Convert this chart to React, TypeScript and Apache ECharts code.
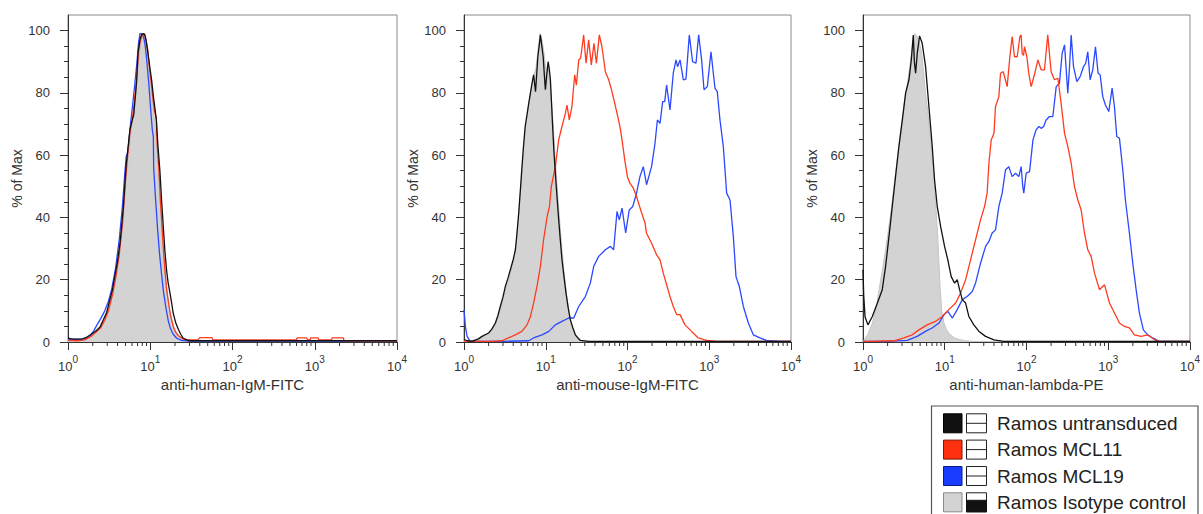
import React, { useEffect, useRef } from 'react';
import * as echarts from 'echarts';

// ---------- axis / label data ----------
const X_MIN = 1;
const X_MAX = 10000;
const Y_MIN = 0;
const Y_MAX = 105;
const Y_MAJOR = [0, 20, 40, 60, 80, 100];
const Y_MINOR = [5, 10, 15, 25, 30, 35, 45, 50, 55, 65, 70, 75, 85, 90, 95];
const X_MINOR = [
  2, 3, 4, 5, 6, 7, 8, 9,
  20, 30, 40, 50, 60, 70, 80, 90,
  200, 300, 400, 500, 600, 700, 800, 900,
  2000, 3000, 4000, 5000, 6000, 7000, 8000, 9000,
];
const PANEL_TITLES = ['anti-human-IgM-FITC', 'anti-mouse-IgM-FITC', 'anti-human-lambda-PE'];
const Y_TITLE = '% of Max';
const SERIES_NAMES = ['Ramos untransduced', 'Ramos MCL11', 'Ramos MCL19', 'Ramos Isotype control'];

// ---------- panel 1: anti-human-IgM-FITC ----------
const p1Untransduced = [
  [1.0, 1.2], [1.1, 1.0], [1.3, 0.9], [1.5, 1.0], [1.7, 1.6], [1.9, 2.4], [2.2, 3.6], [2.45, 4.8],
  [2.7, 7.2], [2.95, 9.5], [3.2, 13.2], [3.45, 16.5], [3.7, 21], [4.0, 26], [4.3, 32], [4.7, 43],
  [5.1, 57], [5.4, 63], [5.65, 68], [6.0, 71], [6.3, 73], [6.6, 79], [6.8, 83], [7.1, 93],
  [7.5, 97], [7.8, 98.6], [8.3, 99], [8.6, 98.6], [9.0, 96], [9.4, 92.5], [9.9, 88], [10.4, 84],
  [10.9, 79], [11.4, 75], [11.9, 71], [12.4, 63], [13.1, 55], [13.7, 46], [14.4, 37], [15.1, 29],
  [15.8, 23], [16.5, 19], [17.3, 16], [18.2, 12.5], [19, 9.3], [20.5, 6], [22, 4], [23.5, 2.5],
  [25, 1.3], [28, 0.6], [30, 0.4], [10000, 0.4],
];
const p1MCL11 = [
  [1.0, 0.5], [1.3, 0.4], [1.6, 0.7], [1.9, 1.8], [2.2, 3.2], [2.5, 4.6], [2.8, 7], [3.1, 10],
  [3.5, 15.5], [3.8, 20.5], [4.2, 28], [4.6, 38], [5.0, 52], [5.4, 62], [5.7, 68], [6.1, 72],
  [6.5, 79], [6.9, 86], [7.2, 93], [7.6, 97], [8.0, 98.5], [8.5, 99], [8.9, 97], [9.3, 94],
  [9.8, 88], [10.3, 83], [10.8, 78], [11.3, 74], [11.8, 72], [12.1, 64], [12.7, 56], [13.3, 45],
  [13.9, 37], [14.5, 29], [15.2, 22], [15.8, 17], [16.6, 13], [17.5, 9], [19, 5], [20.5, 3],
  [22, 2], [25, 1], [30, 0.7], [38, 0.7], [40, 1.4], [56, 1.4], [58, 0.7], [600, 0.7],
  [610, 1.3], [800, 1.3], [820, 0.7], [880, 0.7], [890, 1.3], [1100, 1.3], [1120, 0.7], [1600, 0.7],
  [1620, 1.3], [2240, 1.3], [2260, 0.4], [10000, 0.4],
];
const p1MCL19 = [
  [1.0, 1.0], [1.3, 0.8], [1.6, 1.0], [1.85, 2], [2.05, 3.5], [2.25, 5.5], [2.5, 7.5], [2.8, 10],
  [3.1, 13], [3.4, 17], [3.8, 24], [4.2, 33], [4.6, 44], [4.9, 54], [5.1, 59.5], [5.35, 61],
  [5.7, 69], [6.1, 76], [6.5, 83], [6.9, 90], [7.2, 96], [7.5, 99], [7.9, 99], [8.3, 98],
  [8.7, 95], [9.1, 90], [9.6, 83], [10.1, 75], [10.6, 68], [10.9, 66], [11.0, 56], [11.6, 46],
  [12.3, 36], [13.0, 28], [13.7, 22], [14.5, 16], [15.5, 11], [16.5, 7], [17.5, 4.5], [19, 2.5],
  [21, 1.2], [24, 0.5], [30, 0.3], [10000, 0.3],
];
const p1Isotype = [
  [1.0, 0.8], [1.5, 0.8], [1.8, 1.8], [2.1, 3], [2.4, 4.5], [2.7, 7], [3.0, 10], [3.3, 14],
  [3.7, 20], [4.1, 27], [4.5, 36], [4.9, 47], [5.3, 57], [5.7, 65], [6.1, 71], [6.5, 77],
  [6.9, 84], [7.3, 91], [7.7, 96], [8.2, 98.8], [8.7, 98], [9.2, 94], [9.7, 88], [10.2, 82],
  [10.8, 76], [11.4, 70], [12.0, 62], [12.7, 52], [13.4, 42], [14.2, 32], [15.0, 24], [15.9, 17],
  [17, 11], [18.5, 6.5], [20, 4], [22, 2.2], [25, 1], [30, 0.4], [40, 0.2], [10000, 0.2],
];

// ---------- panel 2: anti-mouse-IgM-FITC ----------
const p2Untransduced = [
  [1.0, 0.8], [1.1, 0.4], [1.26, 0.2], [1.5, 1.0], [1.66, 1.8], [2.0, 2.9], [2.2, 4.2], [2.42, 6.1],
  [2.6, 8.5], [2.78, 11.4], [3.0, 14.5], [3.2, 17.8], [3.45, 20.5], [3.69, 23.2], [4.0, 26.5], [4.25, 29.6],
  [4.45, 35], [4.67, 41.4], [4.9, 49], [5.12, 56.3], [5.35, 63], [5.6, 69.2], [5.9, 73], [6.2, 76.7],
  [6.5, 80], [6.8, 83.1], [7.1, 85.8], [7.3, 83], [7.5, 80.4], [7.75, 86], [8.0, 91.6], [8.3, 95],
  [8.6, 98.6], [8.95, 95], [9.3, 91.6], [9.6, 86], [9.9, 81], [10.3, 86], [10.7, 90], [11.0, 88],
  [11.4, 84.2], [11.8, 76], [12.2, 68.1], [12.6, 61], [13.1, 54.2], [13.7, 47], [14.4, 39.2], [15.1, 32.5],
  [15.8, 26.4], [16.7, 21], [17.7, 15.7], [18.8, 11], [20, 7.1], [21.5, 4.5], [23, 2.3], [25, 1.2],
  [26.5, 0.5], [33.5, 0.2], [10000, 0.2],
];
const p2MCL11 = [
  [1.0, 0.3], [2.0, 0.2], [2.9, 0.4], [3.5, 1.3], [4.25, 2.3], [5.1, 3.4], [5.9, 5.5], [6.5, 8.2],
  [7.1, 12.5], [7.8, 17.8], [8.6, 24.3], [9.4, 32.8], [10.4, 40.3], [11.1, 43.5], [11.7, 49.9], [13.1, 56.3],
  [14.4, 64.9], [15.8, 69.2], [17.4, 73.5], [18.2, 76.1], [19.4, 71.3], [20.9, 75.6], [22.6, 85.8], [23.7, 82.5],
  [25.3, 90.6], [26.7, 91.1], [29.1, 98.6], [31.1, 89.5], [33.5, 97], [36.1, 89], [38.9, 95.9], [41.6, 89.5],
  [45.2, 98.6], [48.7, 94.8], [53.6, 86.8], [58.9, 84.2], [64.6, 80.4], [74.4, 73.5], [81, 69], [85.7, 65],
  [93, 58], [100, 53], [107, 51], [118, 49.4], [129, 46.7], [149, 41.4], [164, 38.2], [171, 34.9],
  [197, 31.7], [227, 28], [250, 26.4], [274, 22.1], [301, 18.4], [331, 14.6], [363, 11.4], [399, 8.8],
  [439, 8.8], [505, 5.5], [609, 3.4], [735, 1.3], [929, 0.5], [1230, 0.2], [10000, 0.2],
];
const p2MCL19 = [
  [1.0, 10.4], [1.04, 5], [1.09, 1.8], [1.19, 0.2], [3, 0.2], [6.2, 0.4], [7.1, 1.3], [9.0, 2.3],
  [10.9, 3.4], [13.1, 5.5], [15.8, 6.6], [19.1, 7.7], [22, 7.7], [25.3, 11.4], [30.5, 14.6], [35.1, 18.9],
  [38.6, 24.3], [44.4, 27.5], [53.6, 29.6], [61.7, 30.7], [67.7, 29.6], [74.4, 41.9], [79.4, 39.2], [85.7, 43],
  [95, 35], [105, 42.4], [116, 43.5], [129, 47.8], [142, 53.1], [156, 56.3], [171, 50.5], [197, 56.3],
  [217, 63.8], [232, 71.3], [250, 70.2], [269, 77.2], [285, 77.2], [301, 82.5], [331, 74.5], [363, 86.3],
  [392, 90.6], [410, 88.4], [439, 90.6], [482, 84.2], [519, 84.4], [570, 98.6], [626, 90], [688, 89.5],
  [742, 98.6], [807, 90.6], [863, 81], [947, 82], [1050, 93.2], [1175, 81.5], [1254, 80.4], [1352, 71.3],
  [1486, 62.8], [1633, 47.8], [1795, 45.6], [1970, 33.9], [2124, 21], [2335, 17.8], [2613, 11.4], [3008, 6.1],
  [3459, 2.3], [4170, 1.3], [5030, 0.5], [7330, 0.2], [10000, 0.2],
];
const p2Isotype = [
  [1.0, 0.3], [1.5, 0.8], [1.8, 1.8], [2.1, 3.2], [2.4, 5.5], [2.7, 9], [3.0, 13.5], [3.3, 17.5],
  [3.7, 22], [4.1, 27], [4.4, 33], [4.7, 42], [5.0, 51], [5.3, 60], [5.6, 68], [6.0, 74],
  [6.4, 79], [6.8, 83], [7.2, 86], [7.6, 88], [8.0, 93], [8.5, 99], [9.0, 97], [9.5, 93],
  [10.0, 88], [10.6, 88], [11.2, 85], [11.8, 77], [12.4, 69], [13.0, 60], [13.7, 51], [14.4, 43],
  [15.2, 35], [16.0, 28], [17, 21], [18, 15], [19.2, 10], [20.5, 6], [22, 3.5], [24, 1.5],
  [27, 0.5], [33, 0.2], [10000, 0.2],
];

// ---------- panel 3: anti-human-lambda-PE ----------
const p3Untransduced = [
  [1.0, 23.2], [1.02, 15], [1.06, 8], [1.15, 5.5], [1.3, 8.2], [1.5, 12.5], [1.72, 16.8], [1.89, 24.3],
  [2.08, 33.9], [2.28, 43.5], [2.5, 53.1], [2.75, 62.8], [3.03, 71.3], [3.32, 79.9], [3.65, 84.2], [3.9, 90.6],
  [4.12, 98.6], [4.25, 90], [4.4, 86.3], [4.61, 92.7], [4.92, 98.3], [5.3, 95.9], [5.83, 88.4], [6.4, 75.6],
  [7.03, 62.8], [7.5, 52.1], [8.1, 43.5], [8.9, 37.1], [9.95, 30.7], [10.9, 26.4], [12.0, 21], [13.2, 18.9],
  [14.2, 20], [15.2, 16.8], [16.4, 13.6], [18, 12.5], [19.7, 8.2], [22.7, 5.5], [26.2, 3.4], [31.6, 1.8],
  [39.9, 0.7], [52.9, 0.2], [10000, 0.2],
];
const p3MCL11 = [
  [1.0, 0.2], [1.13, 0.2], [2.39, 0.4], [3.17, 1.3], [4.0, 2.3], [4.83, 3.9], [6.1, 5.5], [7.7, 6.6],
  [9.3, 8.2], [11.2, 10.4], [13.6, 12.5], [15.6, 15.7], [18, 20], [20.7, 26.4], [23.8, 32.8], [27.4, 39.2],
  [30.7, 43.5], [33, 47.8], [34.7, 57.4], [37, 64.9], [40, 67], [41.8, 75.6], [45.9, 78.8], [48.1, 86.3],
  [51.9, 86.8], [58, 82], [62.6, 91.6], [66.8, 98.1], [71.3, 91.6], [77, 91.6], [83, 98.1], [86, 98.6],
  [88.5, 92.7], [92, 92], [94.6, 94.8], [101, 91.6], [107, 86], [114, 82], [125, 85.8], [138, 90.6],
  [151, 87.4], [166, 87.4], [182, 98.6], [200, 86.8], [220, 84.2], [242, 84.7], [265, 76.7], [292, 67],
  [320, 62.8], [352, 57.4], [386, 49.9], [425, 45.6], [466, 42.4], [512, 35], [562, 29.6], [618, 27.5],
  [679, 22.1], [781, 16.8], [899, 18.4], [1036, 12.5], [1192, 9.3], [1371, 6.1], [1578, 5], [1815, 4.5],
  [2089, 2.3], [2522, 1.8], [3040, 2.3], [3670, 0.7], [4230, 0.2], [10000, 0.2],
];
const p3MCL19 = [
  [1.0, 0.2], [1.98, 0.2], [3.48, 0.5], [4.6, 1.8], [5.8, 3.4], [7.0, 4.5], [8.5, 6.1], [9.8, 8.8],
  [10.9, 9.8], [12.4, 7.7], [14.2, 10.4], [16.4, 13.6], [18.8, 14.6], [21.7, 16.2], [23.8, 18.9], [27.4, 25.3],
  [31.6, 30.7], [34.7, 32.3], [38, 35], [41.8, 36], [45.9, 43.5], [50.4, 47.8], [55.4, 55.3], [60.8, 56.3],
  [66.8, 53.1], [73.4, 54.2], [80.6, 53.1], [86, 56.3], [90, 50], [92.7, 47.8], [99, 54.2], [109, 54.7],
  [120, 64.9], [131, 68.1], [142, 69.2], [151, 68.6], [162, 69.2], [174, 71.3], [191, 72.4], [210, 72.4],
  [231, 82], [253, 83.1], [273, 92.7], [292, 95.4], [320, 79.9], [336, 88.4], [352, 98.6], [376, 88.4],
  [413, 83.6], [453, 85.2], [498, 88.4], [530, 89.5], [562, 93.2], [600, 84.2], [647, 87.4], [698, 94.8],
  [751, 86.3], [796, 85.8], [857, 78.8], [924, 76.1], [1016, 74], [1115, 81.5], [1191, 75.6], [1271, 66],
  [1371, 65.4], [1507, 55.3], [1622, 45.6], [1815, 35], [1995, 25.3], [2193, 16.8], [2406, 9.3], [2690, 3.9],
  [3040, 2.3], [3500, 1.3], [4230, 0.2], [10000, 0.2],
];
const p3Isotype = [
  [1.0, 0], [1.05, 1], [1.15, 2.5], [1.3, 6], [1.45, 11], [1.6, 18], [1.75, 24], [1.9, 30],
  [2.1, 38], [2.3, 46], [2.5, 54], [2.75, 63], [3.0, 71], [3.25, 78], [3.5, 83], [3.8, 90],
  [4.1, 97], [4.3, 99], [4.6, 98], [4.9, 96], [5.2, 93], [5.5, 87], [5.8, 80], [6.2, 74],
  [6.6, 67], [7.0, 60], [7.4, 52], [7.8, 43], [8.2, 34], [8.5, 25], [8.8, 17], [9.2, 10],
  [9.8, 6], [10.5, 4], [11.5, 2.5], [13, 1.4], [15, 0.8], [18, 0.4], [22, 0.2], [10000, 0.2],
];

const PANEL_DATA = [
  { untransduced: p1Untransduced, mcl11: p1MCL11, mcl19: p1MCL19, isotype: p1Isotype },
  { untransduced: p2Untransduced, mcl11: p2MCL11, mcl19: p2MCL19, isotype: p2Isotype },
  { untransduced: p3Untransduced, mcl11: p3MCL11, mcl19: p3MCL19, isotype: p3Isotype },
];

// ---------- styling ----------
const FONT = '"Liberation Sans", Arial, Helvetica, sans-serif';
const C_BLACK = '#111111';
const C_RED = '#ff3b1f';
const C_BLUE = '#2b48ff';
const C_GRAY = '#d3d3d3';
const C_AXIS = '#333333';
const C_TEXT = '#333333';

const GRIDS = [
  { left: 68, top: 15, width: 329, height: 327 },
  { left: 464, top: 15, width: 327, height: 327 },
  { left: 863, top: 15, width: 328, height: 327 },
];

function buildOption() {
  const grid: any[] = [];
  const xAxis: any[] = [];
  const yAxis: any[] = [];
  const series: any[] = [];

  GRIDS.forEach((g, i) => {
    grid.push({
      ...g,
      show: true,
      borderColor: '#8a8a8a',
      borderWidth: 1,
      backgroundColor: 'transparent',
    });
    xAxis.push({
      type: 'log',
      logBase: 10,
      gridIndex: i,
      position: 'bottom',
      min: X_MIN,
      max: X_MAX,
      name: PANEL_TITLES[i],
      nameLocation: 'middle',
      nameGap: 34,
      nameTextStyle: { fontSize: 15, color: C_TEXT, fontFamily: FONT },
      axisLine: { show: true, lineStyle: { color: C_AXIS, width: 1 } },
      axisTick: { show: true, length: 8, lineStyle: { color: C_AXIS, width: 1 } },
      minorTick: { show: false },
      splitLine: { show: false },
      axisLabel: {
        margin: 12,
        formatter: (v: number) => `{b|10}{s|${Math.round(Math.log10(v))}}`,
        rich: {
          b: { fontSize: 13, color: C_TEXT, fontFamily: FONT, lineHeight: 24 },
          s: { fontSize: 10, color: C_TEXT, fontFamily: FONT, lineHeight: 9, verticalAlign: 'top' },
        },
        showMinLabel: true,
        showMaxLabel: true,
      },
    });
    // axis A: line + minor ticks
    yAxis.push({
      type: 'value',
      gridIndex: i,
      position: 'left',
      min: Y_MIN,
      max: Y_MAX,
      axisLine: { show: true, lineStyle: { color: C_AXIS, width: 1 } },
      axisTick: { show: true, length: 4, customValues: Y_MINOR, lineStyle: { color: C_AXIS, width: 1 } },
      axisLabel: { show: false },
      splitLine: { show: false },
    });
    // axis B: major ticks + labels + title
    yAxis.push({
      type: 'value',
      gridIndex: i,
      position: 'left',
      offset: 0,
      min: Y_MIN,
      max: Y_MAX,
      name: Y_TITLE,
      nameLocation: 'middle',
      nameGap: 43,
      nameTextStyle: { fontSize: 14, color: C_TEXT, fontFamily: FONT },
      axisLine: { show: false },
      axisTick: { show: true, length: 8, customValues: Y_MAJOR, lineStyle: { color: C_AXIS, width: 1 } },
      axisLabel: {
        customValues: Y_MAJOR,
        margin: 18,
        fontSize: 13,
        color: C_TEXT,
        fontFamily: FONT,
      },
      splitLine: { show: false },
    });

    const d = PANEL_DATA[i];
    const yIdx = i * 2;
    const base = {
      type: 'line',
      xAxisIndex: i,
      yAxisIndex: yIdx,
      showSymbol: false,
      symbol: 'none',
      smooth: false,
      silent: true,
    };
    series.push({
      ...base,
      name: SERIES_NAMES[3],
      data: d.isotype,
      lineStyle: { color: '#c4c4c4', width: 1 },
      areaStyle: { color: C_GRAY, opacity: 1 },
      z: 1,
    });
    series.push({ ...base, name: SERIES_NAMES[2], data: d.mcl19, lineStyle: { color: C_BLUE, width: 1.3 }, z: 2 });
    series.push({ ...base, name: SERIES_NAMES[1], data: d.mcl11, lineStyle: { color: C_RED, width: 1.3 }, z: 3 });
    series.push({ ...base, name: SERIES_NAMES[0], data: d.untransduced, lineStyle: { color: C_BLACK, width: 1.3 }, z: 4 });

    // log minor ticks on the x axis (2..9 per decade)
    series.push({
      type: 'custom',
      xAxisIndex: i,
      yAxisIndex: yIdx,
      silent: true,
      clip: false,
      z: 10,
      data: X_MINOR.map((v) => [v, 0]),
      renderItem: (_params: any, api: any) => {
        const p = api.coord([api.value(0), 0]);
        return {
          type: 'line',
          shape: { x1: p[0], y1: p[1], x2: p[0], y2: p[1] + 4 },
          style: { stroke: C_AXIS, lineWidth: 1 },
        };
      },
    });
  });

  // legend drawn as graphic elements
  const legendColors = [
    { fill: C_BLACK, stroke: '#000' },
    { fill: '#ff3010', stroke: '#7a1a08' },
    { fill: '#1a3cff', stroke: '#0d1f80' },
    { fill: C_GRAY, stroke: '#8a8a8a' },
  ];
  const rowY = [423.3, 449.6, 476, 502.3];
  const legendChildren: any[] = [
    {
      type: 'rect',
      shape: { x: 931.5, y: 406, width: 266.5, height: 130 },
      style: { fill: '#fff', stroke: '#555', lineWidth: 1.2 },
    },
  ];
  SERIES_NAMES.forEach((name, k) => {
    const cy = rowY[k];
    legendChildren.push({
      type: 'rect',
      shape: { x: 943.5, y: cy - 9.5, width: 18.5, height: 19 },
      style: { fill: legendColors[k].fill, stroke: legendColors[k].stroke, lineWidth: 1 },
    });
    legendChildren.push({
      type: 'rect',
      shape: { x: 966.5, y: cy - 9.5, width: 20, height: 19 },
      style: { fill: '#fff', stroke: '#222', lineWidth: 1 },
    });
    if (k === 3) {
      legendChildren.push({
        type: 'rect',
        shape: { x: 966.5, y: cy - 2, width: 20, height: 11.5 },
        style: { fill: '#111', stroke: '#111', lineWidth: 1 },
      });
    } else {
      legendChildren.push({
        type: 'line',
        shape: { x1: 966.5, y1: cy, x2: 986.5, y2: cy },
        style: { stroke: '#222', lineWidth: 1 },
      });
    }
    legendChildren.push({
      type: 'text',
      x: 997,
      y: cy,
      style: {
        text: name,
        fontSize: 19,
        fontFamily: FONT,
        fill: '#222',
        verticalAlign: 'middle',
        align: 'left',
      },
    });
  });

  return {
    animation: false,
    backgroundColor: '#ffffff',
    textStyle: { fontFamily: FONT },
    grid,
    xAxis,
    yAxis,
    series,
    graphic: [{ type: 'group', children: legendChildren }],
  };
}

export default function App() {
  const ref = useRef<HTMLDivElement>(null);
  useEffect(() => {
    if (!ref.current) return;
    const chart = echarts.init(ref.current, null, { renderer: 'svg' });
    chart.setOption(buildOption() as any);
    return () => {
      chart.dispose();
    };
  }, []);
  return (
    <div
      ref={ref}
      style={{ position: 'fixed', left: 0, top: 0, width: 1203, height: 514, background: '#fff' }}
    />
  );
}
